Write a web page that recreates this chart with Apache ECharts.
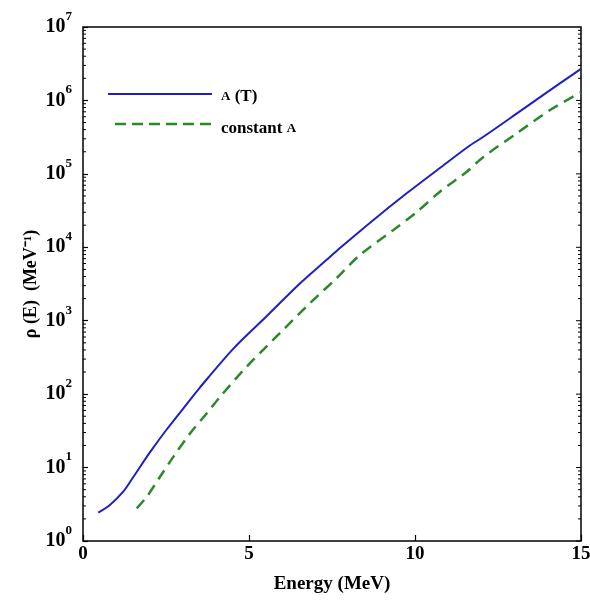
<!DOCTYPE html>
<html>
<head>
<meta charset="utf-8">
<script src="https://cdn.jsdelivr.net/npm/echarts@6/dist/echarts.min.js"></script>
<style>
  html, body { margin: 0; padding: 0; background: #fff; }
  #chart { width: 590px; height: 601px; }
</style>
</head>
<body>
<div id="chart"></div>
<script>
// level density, a(T)
let energyA = [0.46, 0.81, 1.21, 1.52, 2.02, 2.52, 3.22, 3.52, 4.53, 5.53, 6.54, 7.34, 7.74, 8.74, 9.75, 10.75, 11.6, 12.06, 13.06, 14.07, 15];
let rhoA = [2.43, 3.09, 4.69, 7.5, 16.2, 33, 83, 123, 417, 1150, 3240, 6760, 9770, 23400, 54300, 120000, 234000, 320000, 660000, 1380000, 2690000];

// level density, constant a
let energyC = [1.62, 1.92, 2.32, 2.72, 3.22, 3.73, 4.13, 4.93, 5.93, 6.84, 7.64, 8.34, 9.35, 10.05, 10.75, 11.56, 12.06, 13.06, 14.07, 15];
let rhoC = [2.79, 4.0, 7.5, 14, 29, 55, 92, 237, 676, 1740, 3800, 7850, 17200, 30200, 57100, 107000, 170000, 355000, 741000, 1290000];

let xTicks = [0, 5, 10, 15];
let yDecades = [0, 1, 2, 3, 4, 5, 6, 7];

let serif = 'Liberation Serif';
let blue = '#1f1fc4';
let green = '#2a8a2a';

function pairs(xs, ys) {
    let ret = [];
    for (let i = 0; i < xs.length; i++) {
        ret.push([xs[i], ys[i]]);
    }
    return ret;
}

let chart = echarts.init(document.getElementById('chart'));

let options = {
    animation: false,
    grid: {
        left: 83, right: 9, top: 27, bottom: 60,
        outerBoundsMode: 'none',
        containLabel: false,
        show: true,
        borderColor: '#000',
        borderWidth: 1.5
    },
    xAxis: {
        type: 'value',
        min: 0,
        max: 15,
        interval: 5,
        name: 'Energy (MeV)',
        nameLocation: 'middle',
        nameGap: 34,
        nameMoveOverlap: false,
        nameTextStyle: { fontFamily: serif, fontWeight: 'bold', fontSize: 19, color: '#000' },
        axisLine: { show: false },
        axisTick: { inside: true, length: 6, lineStyle: { color: '#000', width: 1.2 } },
        axisLabel: {
            margin: 4,
            fontFamily: serif, fontWeight: 'bold', fontSize: 19, color: '#000',
            formatter: function (v) { return xTicks.indexOf(v) >= 0 ? String(v) : ''; }
        },
        splitLine: { show: false }
    },
    yAxis: {
        type: 'log',
        logBase: 10,
        min: 1,
        max: 1e7,
        name: 'ρ (E)  (MeV⁻¹)',
        nameLocation: 'middle',
        nameGap: 43,
        nameMoveOverlap: false,
        nameTextStyle: { fontFamily: serif, fontWeight: 'bold', fontSize: 18, color: '#000' },
        axisLine: { show: false },
        axisTick: { inside: true, length: 5, lineStyle: { color: '#000', width: 1.2 } },
        axisLabel: {
            margin: 11,
            formatter: function (v) {
                let d = Math.round(Math.log10(v));
                return yDecades.indexOf(d) >= 0 ? '{b|10}{s|' + d + '}' : '';
            },
            rich: {
                b: { fontFamily: serif, fontWeight: 'bold', fontSize: 20, lineHeight: 34, color: '#000' },
                s: { fontFamily: serif, fontWeight: 'bold', fontSize: 13, lineHeight: 12, verticalAlign: 'top', color: '#000' }
            }
        },
        splitLine: { show: false }
    },
    series: [
        {
            name: 'a (T)',
            type: 'line',
            data: pairs(energyA, rhoA),
            showSymbol: false,
            symbol: 'none',
            smooth: 0.3,
            lineStyle: { color: blue, width: 2 }
        },
        {
            name: 'constant a',
            type: 'line',
            data: pairs(energyC, rhoC),
            showSymbol: false,
            symbol: 'none',
            smooth: 0.3,
            lineStyle: { color: green, width: 2.5, type: [11, 7] }
        }
    ]
};

chart.setOption(options);

// minor log ticks on both sides, placed through the axis scales
let xLeft = chart.convertToPixel({ xAxisIndex: 0 }, 0);
let xRight = chart.convertToPixel({ xAxisIndex: 0 }, 15);
let marks = [];
for (let d = 0; d < 7; d++) {
    for (let k = 1; k <= 9; k++) {
        let y = chart.convertToPixel({ yAxisIndex: 0 }, k * Math.pow(10, d));
        let len = k === 1 ? 5 : 3;
        if (k > 1) {
            marks.push({ type: 'line', shape: { x1: xLeft, y1: y, x2: xLeft + len, y2: y }, style: { stroke: '#000', lineWidth: 1 } });
        }
        marks.push({ type: 'line', shape: { x1: xRight - len, y1: y, x2: xRight, y2: y }, style: { stroke: '#000', lineWidth: 1 } });
    }
}

// legend drawn by hand so the keys are plain line samples
let legendFont = 'bold 17px "' + serif + '"';
let legendSmall = 'bold 13px "' + serif + '"';
marks.push({ type: 'line', shape: { x1: 108, y1: 94, x2: 212, y2: 94 }, style: { stroke: blue, lineWidth: 2 } });
marks.push({ type: 'line', shape: { x1: 115, y1: 124, x2: 212, y2: 124 }, style: { stroke: green, lineWidth: 2.5, lineDash: [11, 6] } });
marks.push({
    type: 'text', left: 221, top: 88,
    style: {
        text: '{sc|A} (T)',
        rich: { sc: { font: legendSmall, fill: '#000' } },
        font: legendFont, fill: '#000'
    }
});
marks.push({
    type: 'text', left: 221, top: 120,
    style: {
        text: 'constant {sc|A}',
        rich: { sc: { font: legendSmall, fill: '#000' } },
        font: legendFont, fill: '#000'
    }
});
chart.setOption({ graphic: marks });
</script>
</body>
</html>
